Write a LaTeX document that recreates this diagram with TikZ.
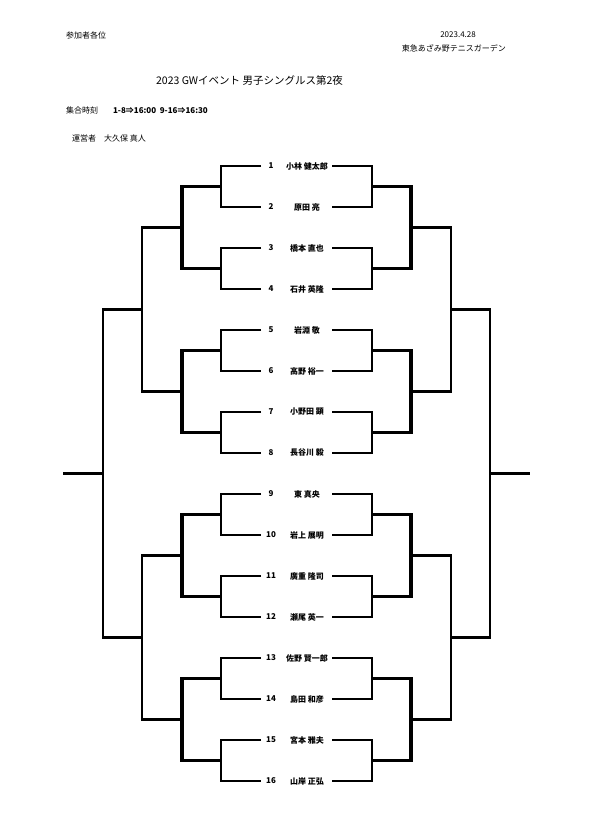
\documentclass[tikz,border=0pt]{standalone}
\usepackage{fontspec}
\setmainfont{Noto Sans CJK JP}
\usetikzlibrary{positioning, calc}

\tikzset{
    txt/.style={inner sep=0pt, font=\fontsize{8bp}{9bp}\selectfont},
    plr/.style={inner sep=0pt, font=\fontsize{8bp}{9bp}\selectfont\bfseries},
    rd1/.style={line width=2.8bp},
    rd2/.style={line width=3.1bp},
    rd3/.style={line width=2.4bp},
    rd4/.style={line width=2.2bp},
    rd5/.style={line width=2.4bp},
}

\begin{document}
\begin{tikzpicture}[x=1bp, y=-1bp, line join=miter]
    \useasboundingbox (0,0) rectangle (592,839);

    % Header
    \node[txt, anchor=west] (to) at (66,35.5) {参加者各位};
    \node[txt, anchor=east] (date) at (476,35) {2023.4.28};
    \node[txt, anchor=east] (venue) at (506,48) {東急あざみ野テニスガーデン};
    \node[inner sep=0pt, font=\fontsize{10.5bp}{12bp}\selectfont] (title) at (249.5,80.5) {2023 GWイベント 男子シングルス第2夜};
    \node[txt, anchor=west] (meet) at (66,110.5) {集合時刻};
    \node[plr, right=14.5bp of meet] (times) {1-8⇒16:00 \ 9-16⇒16:30};
    \node[txt, anchor=west] (staff) at (72,138) {運営者　大久保 真人};

    % Columns (left / right)
    \foreach \r/\xl/\xr in {1/221/372, 2/182/411, 3/142/451, 4/103/490, 5/63/530} {
        \coordinate (cL\r) at (\xl,0);
        \coordinate (cR\r) at (\xr,0);
    }

    % Players
    \foreach \i/\nm in {1/小林 健太郎, 2/原田 亮, 3/橋本 直也, 4/石井 英隆,
                        5/岩淵 敬, 6/高野 裕一, 7/小野田 顕, 8/長谷川 毅,
                        9/東 真央, 10/岩上 展明, 11/廣重 隆司, 12/瀬尾 英一,
                        13/佐野 賢一郎, 14/島田 和彦, 15/宮本 雅夫, 16/山岸 正弘} {
        \pgfmathsetmacro\yy{166+41*(\i-1)}
        \node[plr] (num\i) at (271,\yy) {\i};
        \node[plr] (name\i) at (307,\yy) {\nm};
        \coordinate (L0n\i) at (261,\yy);
        \coordinate (R0n\i) at (332,\yy);
    }

    % Rounds
    \foreach \r [evaluate=\r as \p using int(\r-1)] in {1,...,4} {
        \pgfmathtruncatemacro\nm{16/2^\r}
        \foreach \k [evaluate=\k as \a using int(2*\k-1), evaluate=\k as \b using int(2*\k)] in {1,...,\nm} {
            \draw[rd\r] (L\p n\a) -- (L\p n\a -| cL\r) -- (L\p n\b -| cL\r) -- (L\p n\b);
            \draw[rd\r] (R\p n\a) -- (R\p n\a -| cR\r) -- (R\p n\b -| cR\r) -- (R\p n\b);
            \coordinate (L\r n\k) at ($(L\p n\a -| cL\r)!.5!(L\p n\b -| cL\r)$);
            \coordinate (R\r n\k) at ($(R\p n\a -| cR\r)!.5!(R\p n\b -| cR\r)$);
        }
    }

    % Final
    \draw[rd5] (L4n1) -- (L4n1 -| cL5);
    \draw[rd5] (R4n1) -- (R4n1 -| cR5);
\end{tikzpicture}
\end{document}
